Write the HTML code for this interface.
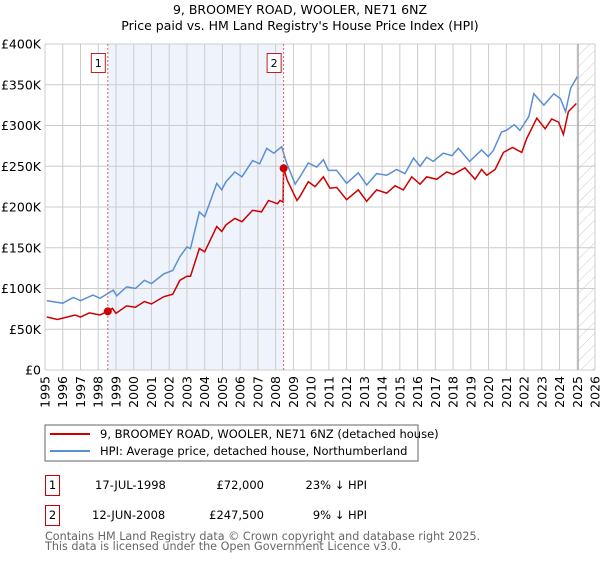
<!DOCTYPE html>
<html><head><meta charset="utf-8"><style>
body{margin:0;background:#fff;font-family:"DejaVu Sans","Liberation Sans",sans-serif;}
svg text{font-family:"DejaVu Sans","Liberation Sans",sans-serif;}
</style></head><body>
<svg id="c" width="600" height="560" viewBox="0 0 600 560" xmlns="http://www.w3.org/2000/svg">
<defs><pattern id="hatch" width="8" height="8" patternUnits="userSpaceOnUse" patternTransform="rotate(45)"><line x1="0" y1="0" x2="0" y2="8" stroke="#ccc" stroke-width="1"/></pattern></defs>
<text x="300" y="14" text-anchor="middle" font-size="12.5">9, BROOMEY ROAD, WOOLER, NE71 6NZ</text>
<text x="300" y="30" text-anchor="middle" font-size="12.5">Price paid vs. HM Land Registry's House Price Index (HPI)</text>
<g id="plot"></g>
<rect x="45" y="425" width="373" height="36" fill="#fff" stroke="#666"/>
<line x1="50" y1="434" x2="90" y2="434" stroke="#cc0000" stroke-width="2"/>
<text x="100" y="438" font-size="11.5">9, BROOMEY ROAD, WOOLER, NE71 6NZ (detached house)</text>
<line x1="50" y1="451" x2="90" y2="451" stroke="#5b8fd4" stroke-width="2"/>
<text x="100" y="455" font-size="11.5">HPI: Average price, detached house, Northumberland</text>
<g font-size="11.5">
<rect x="45.5" y="475.5" width="14" height="20" fill="none" stroke="#c00"/>
<text x="52.5" y="489" text-anchor="middle">1</text>
<text x="95" y="489">17-JUL-1998</text>
<text x="264" y="489" text-anchor="end">£72,000</text>
<text x="367" y="489" text-anchor="end">23% ↓ HPI</text>
<rect x="45.5" y="505.5" width="14" height="20" fill="none" stroke="#c00"/>
<text x="52.5" y="519" text-anchor="middle">2</text>
<text x="92" y="519">12-JUN-2008</text>
<text x="264" y="519" text-anchor="end">£247,500</text>
<text x="367" y="519" text-anchor="end">9% ↓ HPI</text>
</g>
<text x="45" y="540" font-size="11.2" fill="#666">Contains HM Land Registry data © Crown copyright and database right 2025.</text>
<text x="45" y="550" font-size="11.2" fill="#666">This data is licensed under the Open Government Licence v3.0.</text>
</svg>
<script>
const hpiYears=[1995.1,1996.0,1996.6,1997.0,1997.7,1998.1,1998.85,1999.04,1999.6,2000.1,2000.6,2001.0,2001.7,2002.2,2002.6,2003.0,2003.2,2003.7,2004.0,2004.68,2004.96,2005.2,2005.7,2006.1,2006.7,2007.1,2007.5,2007.9,2008.34,2008.6,2009.1,2009.37,2009.84,2010.31,2010.69,2010.97,2011.44,2012.0,2012.66,2013.13,2013.69,2014.26,2014.82,2015.29,2015.77,2016.14,2016.51,2016.88,2017.45,2017.93,2018.3,2018.93,2019.61,2019.98,2020.26,2020.73,2021.0,2021.45,2021.77,2022.27,2022.55,2023.12,2023.68,2024.05,2024.34,2024.63,2024.9,2025.0];
const hpiValues=[85,82,89,85,92,88,98,91,102,100,110,106,118,122,139,151,149,194,188,229,221,231,243,237,257,253,272,266,274,255,228,237,254,249,258,245,245,229,242,227,241,239,246,241,260,250,261,256,266,263,272,256,270,262,269,292,294,301,294,311,339,325,339,333,317,346,356,360];
const priceYears=[1995.1,1995.7,1996.7,1997.0,1997.5,1998.1,1998.54,1998.8,1999.0,1999.6,2000.1,2000.6,2001.0,2001.7,2002.2,2002.6,2003.0,2003.2,2003.7,2004.0,2004.68,2004.96,2005.2,2005.7,2006.1,2006.7,2007.2,2007.6,2008.1,2008.25,2008.42,2008.45,2008.65,2009.2,2009.37,2009.84,2010.22,2010.69,2011.06,2011.44,2012.0,2012.66,2013.13,2013.69,2014.26,2014.73,2015.2,2015.67,2016.14,2016.51,2017.08,2017.64,2018.02,2018.67,2019.24,2019.61,2019.9,2020.37,2020.84,2021.35,2021.87,2022.15,2022.72,2023.19,2023.56,2023.95,2024.22,2024.5,2024.95];
const priceValues=[65,62,67.5,65,70,67.5,72,75.6,69.5,78.6,77,84,81,90,93,110,115,115,149,145,176,170,178,186,182,196,194,208,204,208,206,247.5,233,208,213,231,225,237,223,224,209,221,207,221,217,226,221,237,228,237,234,243,240,248,234,246,239,246,267,273,267,284,309,296,308,304,289,317,327];
const sales=[{y:1998.54,v:72,n:"1"},{y:2008.45,v:247.5,n:"2"}];
const yTicks=[0,50,100,150,200,250,300,350,400];
const xTicks=[];for(let y=1995;y<=2026;y++)xTicks.push(y);
const X0=45,X1=595,Y0=370,Y1=44;
const sx=y=>X0+(y-1995)/31*(X1-X0);
const sy=v=>Y0-v/400*(Y0-Y1);
const NS="http://www.w3.org/2000/svg";
const g=document.getElementById('plot');
function mk(t,a){const e=document.createElementNS(NS,t);for(const k in a)e.setAttribute(k,a[k]);g.appendChild(e);return e;}
let e=mk('rect',{x:sx(sales[0].y),y:Y1,width:sx(sales[1].y)-sx(sales[0].y),height:Y0-Y1,fill:'#eef3fc'});


e=mk('rect',{x:sx(2025.05),y:Y1,width:X1-sx(2025.05),height:Y0-Y1,fill:'url(#hatch)'});


yTicks.forEach(t=>{
 const l=mk('line',{x1:X0,x2:X1,y1:sy(t),y2:sy(t),stroke:'#ccc','stroke-width':1});
 
 
 const tx=mk('text',{x:X0-4,y:sy(t)+4.5,'text-anchor':'end','font-size':'12.5'});
 tx.textContent=t===0?'£0':'£'+t+'K';
 
 
});
xTicks.forEach(t=>{
 const l=mk('line',{x1:sx(t),x2:sx(t),y1:Y1,y2:Y0,stroke:'#ccc','stroke-width':1});
 
 
 const tx=mk('text',{x:0,y:0,'text-anchor':'end','font-size':'12.5',transform:`translate(${sx(t)+4.5},${Y0+6}) rotate(-90)`});
 tx.textContent=t;
 
 
});
e=mk('line',{x1:sx(2025.05),x2:sx(2025.05),y1:Y1,y2:Y0,stroke:'#999','stroke-width':1});


e=mk('polyline',{points:hpiYears.map((y,i)=>sx(y)+','+sy(hpiValues[i])).join(' '),fill:'none',stroke:'#5b8fd4','stroke-width':1.5});


e=mk('polyline',{points:priceYears.map((y,i)=>sx(y)+','+sy(priceValues[i])).join(' '),fill:'none',stroke:'#cc0000','stroke-width':1.5});


sales.forEach(s=>{
 const l=mk('line',{x1:sx(s.y),x2:sx(s.y),y1:Y1,y2:Y0,stroke:'#e06060','stroke-width':1,'stroke-dasharray':'2,2'});
 
 
 const c=mk('circle',{cx:sx(s.y),cy:sy(s.v),r:4,fill:'#cc0000'});
 
 
 const r=mk('rect',{x:sx(s.y)-16.5,y:53.5,width:14,height:19,fill:'#fff',stroke:'#b22'});
 
 
 const t=mk('text',{x:sx(s.y)-9.5,y:67,'text-anchor':'middle','font-size':'11'});
 t.textContent=s.n;
 
 
});
</script>
</body></html>
